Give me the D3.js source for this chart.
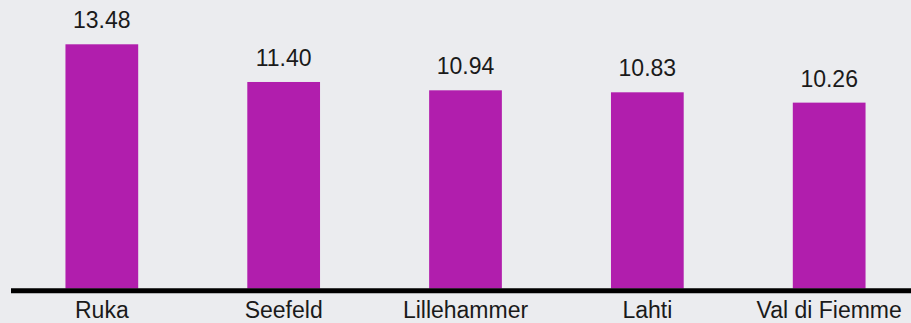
<!DOCTYPE html>
<html>
<head>
<meta charset="utf-8">
<script src="https://cdn.jsdelivr.net/npm/d3@7"></script>
<style>
  html, body { margin: 0; padding: 0; background: #ebecef; }
  svg { display: block; }
  text { font-family: "Liberation Sans", Arial, sans-serif; fill: #1a1a1a; }
</style>
</head>
<body>
<svg id="chart" width="911" height="323"></svg>
<script>
// Venues and their values
const venues = ["Ruka", "Seefeld", "Lillehammer", "Lahti", "Val di Fiemme"];
const values = [13.48, 11.40, 10.94, 10.83, 10.26];

const W = 911, H = 323;
const baseY = 288.5;

const svg = d3.select("#chart");
svg.append("rect").attr("width", W).attr("height", H).attr("fill", "#ebecef");

const x = d3.scaleBand()
  .domain(venues)
  .range([20, 911])
  .paddingInner(0.6)
  .paddingOuter(0.25);

const y = d3.scaleLinear()
  .domain([0, 13.48])
  .range([baseY, 44.3]);

const data = venues.map((v, i) => ({ venue: v, value: values[i] }));

// Bars
svg.selectAll("rect.bar")
  .data(data)
  .join("rect")
  .attr("class", "bar")
  .attr("x", d => x(d.venue))
  .attr("y", d => y(d.value))
  .attr("width", x.bandwidth())
  .attr("height", d => baseY - y(d.value))
  .attr("fill", "#b11ead");

// Value labels above bars
svg.selectAll("text.value")
  .data(data)
  .join("text")
  .attr("class", "value")
  .attr("x", d => x(d.venue) + x.bandwidth() / 2)
  .attr("y", d => y(d.value) - 16)
  .attr("text-anchor", "middle")
  .attr("font-size", 23)
  .text(d => d.value.toFixed(2));

// Baseline
svg.append("line")
  .attr("x1", 11).attr("x2", 911)
  .attr("y1", 290.8).attr("y2", 290.8)
  .attr("stroke", "#000")
  .attr("stroke-width", 5);

// Category axis labels
const axis = d3.axisBottom(x).tickSize(0).tickPadding(0);
const g = svg.append("g").attr("transform", `translate(0,${baseY})`).call(axis);
g.select(".domain").remove();
g.selectAll("text")
  .attr("font-size", 23)
  .attr("font-family", "'Liberation Sans', Arial, sans-serif")
  .attr("fill", "#1a1a1a")
  .attr("dy", null)
  .attr("y", 318.3 - baseY);
</script>
</body>
</html>
